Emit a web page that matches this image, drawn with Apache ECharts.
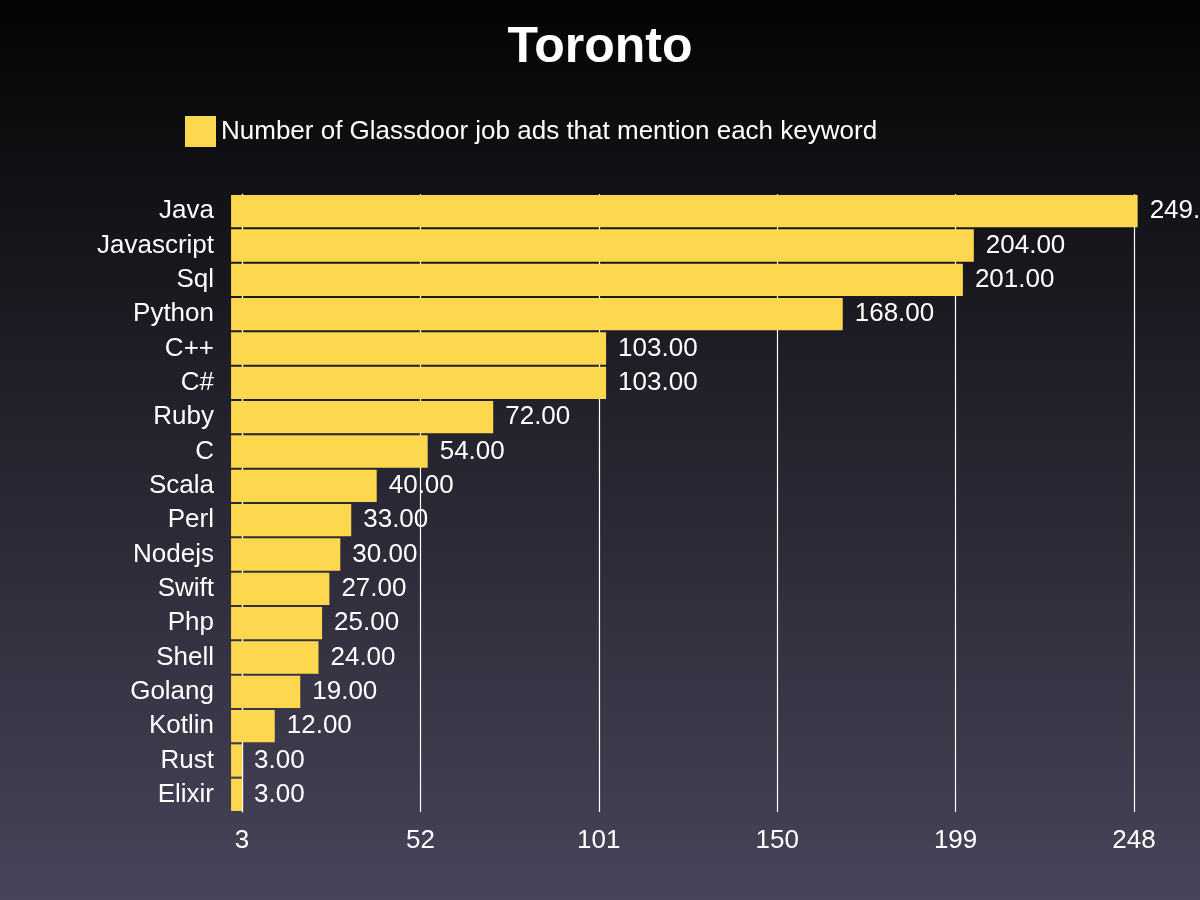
<!DOCTYPE html>
<html>
<head>
<meta charset="utf-8">
<script src="https://cdn.jsdelivr.net/npm/echarts@6/dist/echarts.min.js"></script>
<style>
  html, body { margin: 0; padding: 0; }
  #chart { width: 1200px; height: 900px; }
</style>
</head>
<body>
<div id="chart"></div>
<script>
var keywords = ['Java', 'Javascript', 'Sql', 'Python', 'C++', 'C#', 'Ruby', 'C', 'Scala', 'Perl',
	'Nodejs', 'Swift', 'Php', 'Shell', 'Golang', 'Kotlin', 'Rust', 'Elixir'];
var jobAds = [249, 204, 201, 168, 103, 103, 72, 54, 40, 33, 30, 27, 25, 24, 19, 12, 3, 3];
var axisMin = 3;
var axisMax = 248;
var axisStep = 49;

var chart = echarts.init(document.getElementById('chart'));

var option = {
	backgroundColor: {
		type: 'linear', x: 0, y: 0, x2: 0, y2: 1,
		colorStops: [
			{ offset: 0, color: '#040404' },
			{ offset: 1, color: '#48445a' }
		]
	},
	textStyle: { fontFamily: 'Liberation Sans' },
	title: {
		text: 'Toronto',
		left: 'center',
		top: 18,
		textStyle: { color: '#fff', fontSize: 50, fontWeight: 'bold', fontFamily: 'Liberation Sans' }
	},
	legend: {
		data: ['Number of Glassdoor job ads that mention each keyword'],
		left: 180,
		top: 111,
		itemWidth: 31,
		itemHeight: 31,
		itemGap: 20,
		icon: 'rect',
		textStyle: { color: '#fff', fontSize: 26, fontFamily: 'Liberation Sans' }
	},
	grid: {
		left: 242,
		right: 66,
		top: 194,
		bottom: 88,
		containLabel: false
	},
	xAxis: {
		type: 'value',
		min: axisMin,
		max: axisMax,
		interval: axisStep,
		axisLine: { show: false },
		axisTick: { show: false },
		axisLabel: { color: '#fff', fontSize: 26, margin: 16, fontFamily: 'Liberation Sans' },
		splitLine: { show: true, lineStyle: { color: '#ffffff', width: 1.2 } }
	},
	yAxis: {
		type: 'category',
		data: keywords,
		inverse: true,
		axisLine: { show: true, lineStyle: { color: '#ffffff', width: 1.2 } },
		axisTick: { show: false },
		axisLabel: { color: '#fff', fontSize: 26, margin: 28, fontFamily: 'Liberation Sans' }
	},
	series: [
		{
			name: 'Number of Glassdoor job ads that mention each keyword',
			type: 'bar',
			data: jobAds,
			clip: false,
			barCategoryGap: '6%',
			itemStyle: { color: '#fdd84f' },
			label: {
				show: true,
				position: 'right',
				distance: 12,
				color: '#fff',
				fontSize: 26,
				fontFamily: 'Liberation Sans',
				formatter: function (p) { return p.value.toFixed(2); }
			}
		}
	]
};
chart.setOption(option);
</script>
</body>
</html>
